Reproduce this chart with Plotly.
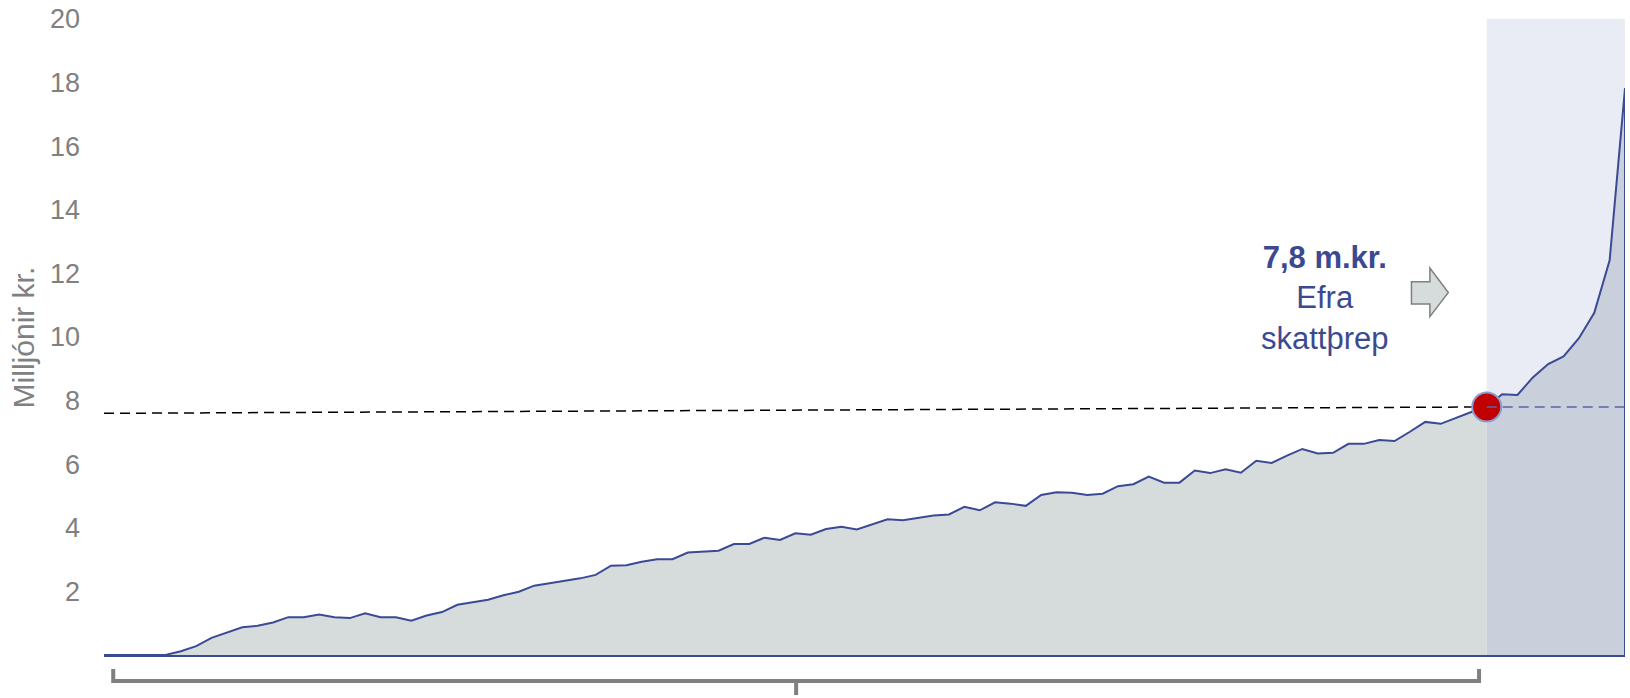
import plotly.graph_objects as go

# ---- data ----
percentiles = list(range(1, 101))
income = [
    0.00, 0.00, 0.00, 0.00, 0.00,
    0.12, 0.28, 0.54, 0.70, 0.87,
    0.92, 1.02, 1.19, 1.19, 1.27,
    1.19, 1.16, 1.31, 1.19, 1.19,
    1.08, 1.24, 1.35, 1.58, 1.66,
    1.74, 1.88, 1.99, 2.18, 2.25,
    2.32, 2.41, 2.52, 2.81, 2.82,
    2.93, 3.01, 3.01, 3.22, 3.26,
    3.28, 3.49, 3.49, 3.69, 3.62,
    3.83, 3.78, 3.96, 4.03, 3.95,
    4.11, 4.27, 4.24, 4.31, 4.39,
    4.42, 4.66, 4.55, 4.80, 4.76,
    4.69, 5.03, 5.12, 5.10, 5.03,
    5.07, 5.31, 5.37, 5.61, 5.42,
    5.42, 5.80, 5.72, 5.84, 5.73,
    6.11, 6.04, 6.27, 6.48, 6.34,
    6.36, 6.64, 6.64, 6.76, 6.73,
    7.02, 7.33, 7.27, 7.46, 7.64,
    7.80,
    8.20, 8.18, 8.73, 9.15, 9.39, 9.96, 10.76, 12.41, 17.82,
]
threshold_value = 7.8
threshold_index = 90          # position of the threshold percentile in the list
dash_start_value = 7.6
y_ticks = [2, 4, 6, 8, 10, 12, 14, 16, 18, 20]
y_title = "Milljónir kr."
note_text = "<b>7,8 m.kr.</b><br>Efra<br>skattþrep"

# ---- styles ----
LINE = "#3b4a94"
FILL_LOW = "#d6dcdc"
FILL_HIGH = "#c9cfdb"
BAND = "#e9ebf5"
GREY = "#808080"
FONT = "Arial, Liberation Sans, sans-serif"

x_thr = percentiles[threshold_index]
x_first = percentiles[0]
x_last = percentiles[-1]

fig = go.Figure()
fig.add_trace(go.Scatter(
    x=percentiles[:threshold_index + 1], y=income[:threshold_index + 1],
    mode="none", fill="tozeroy", fillcolor=FILL_LOW, hoverinfo="skip", showlegend=False))
fig.add_trace(go.Scatter(
    x=percentiles[threshold_index:], y=income[threshold_index:],
    mode="none", fill="tozeroy", fillcolor=FILL_HIGH, hoverinfo="skip", showlegend=False))
fig.add_trace(go.Scatter(
    x=percentiles, y=income, mode="lines",
    line=dict(color=LINE, width=2), showlegend=False))
fig.add_trace(go.Scatter(
    x=[x_thr], y=[threshold_value], mode="markers",
    marker=dict(size=29, color="#c00000", line=dict(color="#8e9bd1", width=2)),
    showlegend=False))

shapes = [
    # upper-bracket band
    dict(type="rect", xref="x", yref="paper", x0=x_thr, x1=x_last, y0=0, y1=1,
         fillcolor=BAND, line=dict(width=0), layer="below"),
    # black dashed guide
    dict(type="line", xref="x", yref="y", x0=x_first, y0=dash_start_value,
         x1=x_thr, y1=threshold_value, line=dict(color="black", width=1.5, dash="10px,6px"),
         layer="below"),
    # blue dashed continuation
    dict(type="line", xref="x", yref="y", x0=x_thr, y0=threshold_value,
         x1=x_last, y1=threshold_value, line=dict(color="#5565aa", width=1.5, dash="10px,6px"),
         layer="above"),
    # right closing edge
    dict(type="line", xref="x", yref="y", x0=x_last, y0=0, x1=x_last, y1=income[-1],
         line=dict(color=LINE, width=2), layer="above"),
]

# bracket under the lower part
bx0, bx1 = x_first + 0.6, x_thr - 0.5
bmid = (bx0 + bx1) / 2
ytop, ybar, ytick = -0.022, -0.041, -0.063
shapes.append(dict(
    type="path", xref="x", yref="paper",
    path=f"M {bx0},{ytop} L {bx0},{ybar} L {bx1},{ybar} L {bx1},{ytop}",
    line=dict(color=GREY, width=4), layer="above"))
shapes.append(dict(
    type="path", xref="x", yref="paper",
    path=f"M {bmid},{ybar} L {bmid},{ytick}",
    line=dict(color=GREY, width=4), layer="above"))

# block arrow
ax0, ax1, ax2 = 86.1, 87.3, 88.5
shapes.append(dict(
    type="path", xref="x", yref="y",
    path=(f"M {ax0},11.74 L {ax1},11.74 L {ax1},12.17 L {ax2},11.40 "
          f"L {ax1},10.64 L {ax1},11.04 L {ax0},11.04 Z"),
    fillcolor="#d6dbdb", line=dict(color=GREY, width=1.5), layer="above"))

annotations = [
    dict(x=80.5, y=11.22, xref="x", yref="y", text=note_text, showarrow=False,
         xanchor="center", yanchor="middle", align="center",
         font=dict(family=FONT, size=31, color="#3b4a8f")),
    dict(x=-0.053, y=0.5, xref="paper", yref="paper", text=y_title, showarrow=False,
         textangle=-90, xanchor="center", yanchor="middle",
         font=dict(family=FONT, size=30, color=GREY)),
]

fig.update_layout(
    width=1630, height=698,
    margin=dict(l=104, r=5, t=19, b=43),
    plot_bgcolor="white", paper_bgcolor="white",
    shapes=shapes, annotations=annotations,
    font=dict(family=FONT),
    hovermode=False,
    xaxis=dict(range=[x_first, x_last], showgrid=False, zeroline=False,
               showticklabels=False, ticks="", showline=True, linecolor=LINE, linewidth=2),
    yaxis=dict(range=[0, 20], tickvals=y_ticks, showgrid=False, zeroline=False,
               showline=False, ticks="", ticklabelstandoff=23,
               tickfont=dict(family=FONT, size=27, color=GREY)),
)

fig.write_html(
    "out.html",
    config={"displayModeBar": False},
    post_script="document.body.style.margin='0';document.body.style.overflow='hidden';",
)
